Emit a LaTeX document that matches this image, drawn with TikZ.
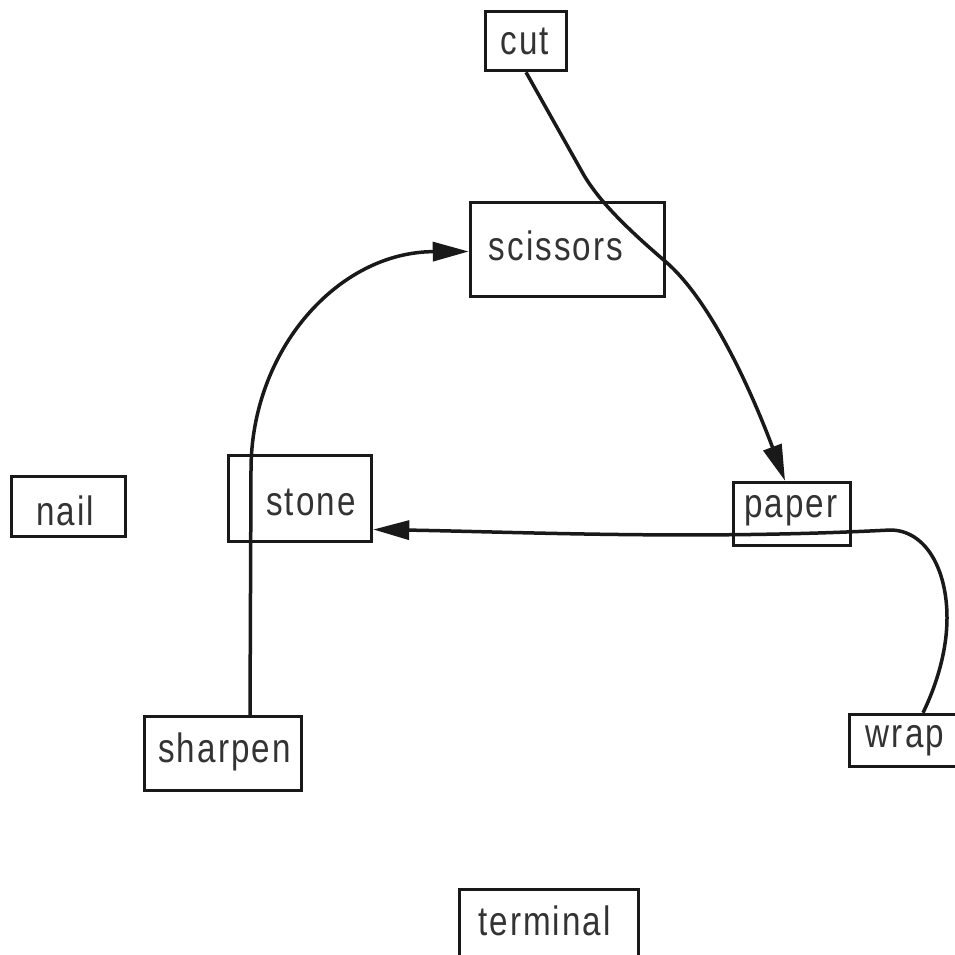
\documentclass[tikz,border=0pt]{standalone}
\usepackage{fontspec}
\newfontfamily\boxfont{Liberation Sans}[FakeStretch=0.81, LetterSpace=5]
\usetikzlibrary{arrows.meta,calc}
\begin{document}
\begin{tikzpicture}[x=1pt,y=-1pt,
  box/.style={draw=black!90, line width=3.5pt, rectangle, inner sep=0pt},
  lbl/.style={anchor=base, inner sep=0pt, text=black!80,
              font=\boxfont\fontsize{41}{48}\selectfont},
  link/.style={draw=black!90, line width=3.5pt},
  tip/.style={-{Triangle[length=36pt,width=19pt]}}
]
\fill[white] (0,0) rectangle (954,955);
\useasboundingbox (0,0) rectangle (954,955);

% boxes
\node[box, minimum width=81pt,  minimum height=59pt] (cut)      at (526,41)    {};
\node[box, minimum width=194pt, minimum height=94pt] (scissors) at (567.5,249.5) {};
\node[box, minimum width=114pt, minimum height=60pt] (nail)     at (68.5,506.5) {};
\node[box, minimum width=143pt, minimum height=86pt] (stone)    at (300,498.5) {};
\node[box, minimum width=117pt, minimum height=63pt] (paper)    at (792,514)   {};
\node[box, minimum width=157pt, minimum height=74pt] (sharpen)  at (223,753.5) {};
\node[box, minimum width=109pt, minimum height=52pt] (wrap)     at (904,740.5) {};
\node[box, minimum width=179pt, minimum height=74pt] (terminal) at (549,926.5) {};

% box texts, placed on their baselines
\node[lbl] (cutText)      at (525,55)  {cut};
\node[lbl] (scissorsText) at (556,260) {scissors};
\node[lbl] (nailText)     at (65,525)  {nail};
\node[lbl] (stoneText)    at (311,515) {stone};
\node[lbl] (paperText)    at (791,517) {paper};
\node[lbl] (sharpenText)  at (224.5,762) {sharpen};
\node[lbl] (wrapText)     at (905,747) {wrap};
\node[lbl] (terminalText) at (544.5,935) {terminal};

% connector bend points
\coordinate (cutBend)   at (581,170);
\coordinate (cutMid)    at (666,262);
\coordinate (sharpBend) at (251,470);
\coordinate (wrapSide)  at (947,618);
\coordinate (wrapTop)   at (890,530);

% cut -> paper
\draw[link, tip] (cut.south) -- (cutBend)
  .. controls (596,198) and (624,226) .. (cutMid)
  .. controls (719,308) and (763,422) .. ($(paper.north)+(-7,0)$);

% sharpen -> scissors
\draw[link, tip] ($(sharpen.north)+(27,0)$) -- (sharpBend)
  .. controls (251,350) and (338,252) .. ($(scissors.west)+(0,2)$);

% wrap -> stone
\draw[link, tip] ($(wrap.north)+(19,0)$)
  .. controls (938,682) and (947,648) .. (wrapSide)
  .. controls (947,568) and (925,530) .. (wrapTop)
  .. controls (700,540) and (520,532) .. ($(stone.east)+(0,31)$);
\end{tikzpicture}
\end{document}
